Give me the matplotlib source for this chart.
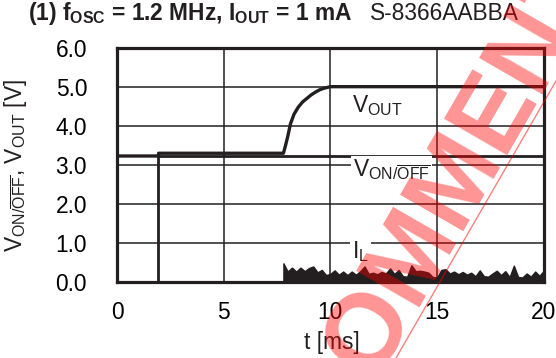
import matplotlib
matplotlib.use("Agg")
import matplotlib.pyplot as plt
from matplotlib.lines import Line2D

plt.rcParams['font.family'] = ['Liberation Sans', 'DejaVu Sans']
plt.rcParams['mathtext.fontset'] = 'custom'
plt.rcParams['mathtext.rm'] = 'Liberation Sans'
plt.rcParams['mathtext.bf'] = 'Liberation Sans:bold'
plt.rcParams['mathtext.it'] = 'Liberation Sans:italic'

INK = '#231f20'

# ON/OFF pin voltage [V] vs time [ms]
von_t = [0, 1.9, 1.9, 20]
von_v = [0, 0, 3.23, 3.23]

# Output voltage [V] vs time [ms]
vout_t = [0, 1.95, 1.95, 7.8, 7.9, 8.0, 8.13, 8.3, 8.5, 8.7, 8.9, 9.1, 9.3, 9.5, 9.7, 10.0, 20]
vout_v = [3.23, 3.23, 3.30, 3.30, 3.50, 3.72, 4.05, 4.30, 4.48, 4.61, 4.70, 4.79, 4.86, 4.92, 4.96, 5.0, 5.0]

# Inductor current envelope (burst switching), arbitrary scale on the V axis
il_t = [7.8, 8.0, 8.2, 8.4, 8.6, 8.8, 9.0, 9.2, 9.4, 9.6, 9.8, 10.0, 10.2, 10.4, 10.6,
        10.8, 11.0, 11.2, 11.4, 11.6, 11.8, 12.0, 12.2, 12.4, 12.6, 12.8, 13.0, 13.2,
        13.4, 13.6, 13.8, 14.0, 14.2, 14.4, 14.6, 14.8, 15.0, 15.2, 15.4, 15.6, 15.8,
        16.0, 16.2, 16.4, 16.6, 16.8, 17.0, 17.2, 17.4, 17.6, 17.8, 18.0, 18.2, 18.4,
        18.6, 18.8, 19.0, 19.2, 19.4, 19.6, 19.8, 20.0]
il_v = [0.49, 0.28, 0.38, 0.28, 0.38, 0.29, 0.37, 0.41, 0.26, 0.32, 0.19, 0.22, 0.31, 0.20, 0.28,
        0.19, 0.28, 0.20, 0.29, 0.41, 0.22, 0.25, 0.21, 0.27, 0.23, 0.36, 0.22, 0.32,
        0.16, 0.15, 0.44, 0.29, 0.30, 0.28, 0.25, 0.14, 0.13, 0.32, 0.34, 0.23, 0.28,
        0.21, 0.27, 0.20, 0.25, 0.16, 0.31, 0.16, 0.15, 0.23, 0.30, 0.19, 0.29, 0.14,
        0.43, 0.14, 0.13, 0.23, 0.15, 0.28, 0.17, 0.30]

x_ticks = [0, 5, 10, 15, 20]
y_ticks = [0.0, 1.0, 2.0, 3.0, 4.0, 5.0, 6.0]

FS = 16.4

fig = plt.figure(figsize=(5.56, 3.58), dpi=100)
ax = fig.add_axes([0.2104, 0.2109, 0.7675, 0.6564])

ax.fill_between(il_t, 0, il_v, color=INK, lw=1.0, zorder=2)
ax.plot(von_t, von_v, color=INK, lw=2.0, solid_joinstyle='miter', zorder=2)
ax.plot(vout_t, vout_v, color=INK, lw=2.4, solid_capstyle='butt', zorder=2)

ax.set_xlim(0, 20)
ax.set_ylim(0, 6)
ax.set_xticks(x_ticks)
ax.set_xticklabels([f"{t:g}" for t in x_ticks], fontsize=FS)
ax.set_yticks(y_ticks)
ax.set_yticklabels([f"{v:.1f}" for v in y_ticks], fontsize=FS)
ax.tick_params(axis='both', length=0)
ax.tick_params(axis='x', pad=13.5)
ax.tick_params(axis='y', pad=21.5)
ax.grid(True, color=INK, lw=1.1)
for sp in ax.spines.values():
    sp.set_linewidth(2.3)
    sp.set_color(INK)

lab_box = dict(facecolor='white', edgecolor='none', pad=1.5)
ax.text(12.2, 4.53, r"V$_{\mathregular{OUT}}$", fontsize=FS, ha='center', va='center', color=INK)
ax.text(11.05, 2.87, r"V$_{\mathregular{ON/}\overline{\mathregular{OFF}}}$", fontsize=FS,
        ha='left', va='center', color=INK, bbox=lab_box, zorder=3)
ax.text(11.4, 0.80, r"I$_{\mathregular{L}}$", fontsize=FS, ha='center', va='center',
        color=INK, bbox=lab_box, zorder=3)

fig.text(28 / 556, 1 - 20 / 358,
         r"(1) f$_{\mathregular{OSC}}$ = 1.2 MHz, I$_{\mathregular{OUT}}$ = 1 mA",
         fontsize=FS, fontweight='bold', va='baseline', ha='left', color=INK)
fig.text(370 / 556, 1 - 20 / 358, "S-8366AABBA", fontsize=FS, va='baseline', ha='left', color=INK)

fig.text(16 / 556, 0.539,
         r"V$_{\mathregular{ON/}\overline{\mathregular{OFF}}}$, V$_{\mathregular{OUT}}$ [V]",
         fontsize=FS, rotation=90, ha='center', va='center', color=INK)
fig.text(332 / 556, 0.042, "t [ms]", fontsize=16.4, ha='center', va='center', color=INK)

# Review stamp across the figure, with its underline
fig.text(448 / 556, 1 - 196 / 358, "COMMENT", rotation=60, fontsize=76, fontweight='bold',
         color='red', alpha=0.42, ha='center', va='center', rotation_mode='anchor')
fig.add_artist(Line2D([396 / 556, 1.0], [0.0, 1 - 81 / 358],
                      transform=fig.transFigure, color='red', alpha=0.5, lw=1.0))

fig.savefig("out.png", dpi=100)
